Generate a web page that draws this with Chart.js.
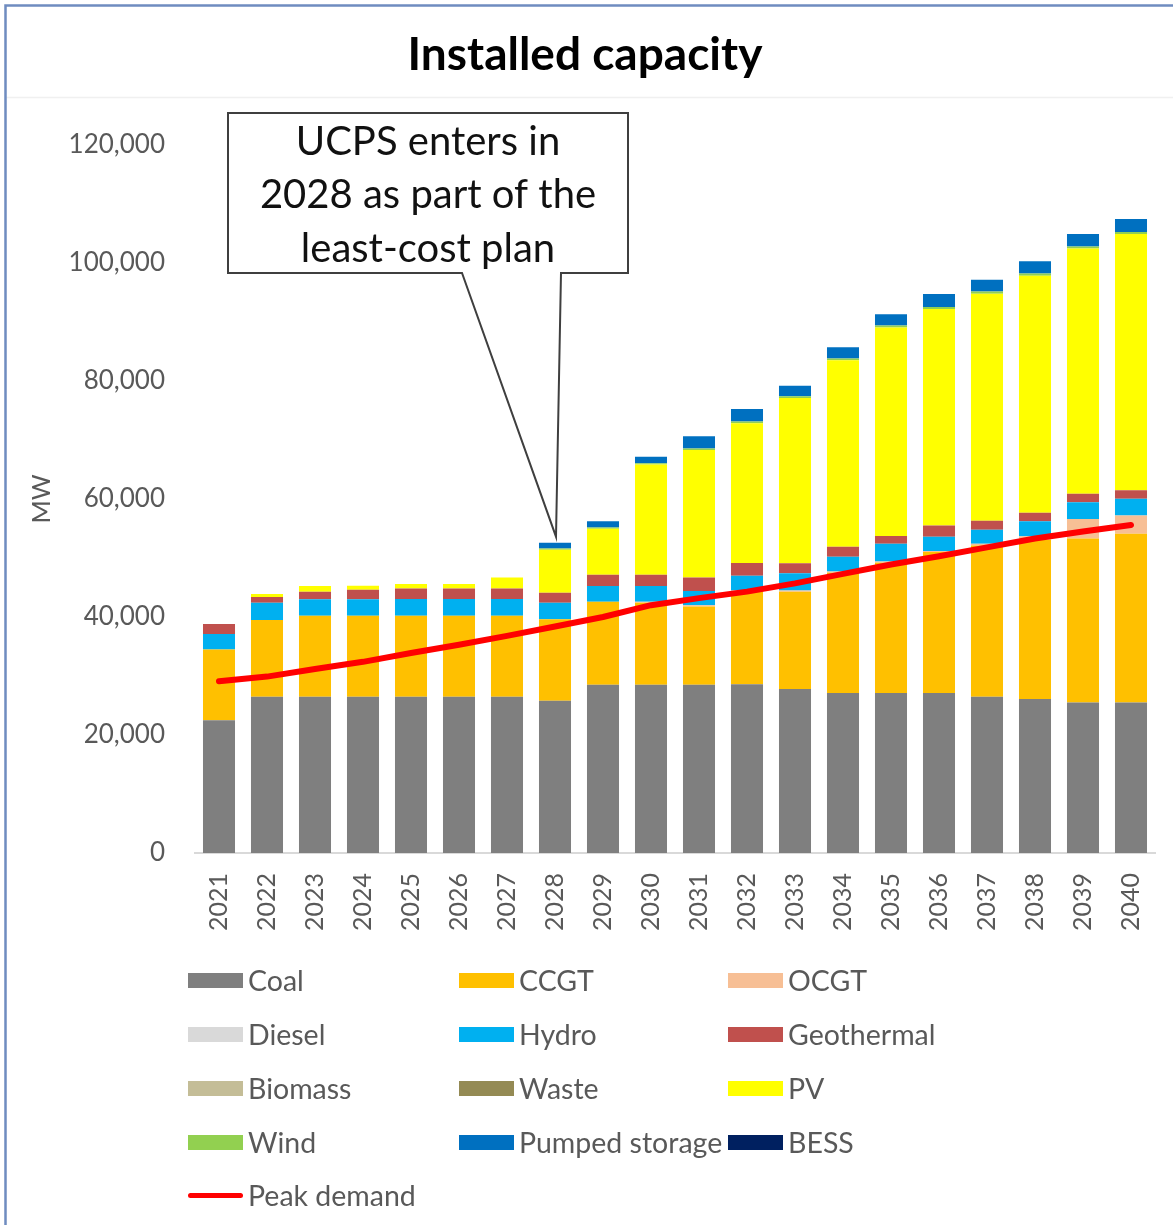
<!DOCTYPE html>
<html>
<head>
<meta charset="utf-8">
<script src="https://cdn.jsdelivr.net/npm/chart.js@4/dist/chart.umd.min.js"></script>
<style>
html,body{margin:0;padding:0;background:#fff;}
#wrap{position:relative;width:1173px;height:1225px;overflow:hidden;background:#fff;}
#c{position:absolute;left:0;top:0;}
.lg{position:absolute;height:30px;display:flex;align-items:center;font-family:Lato,"Open Sans",sans-serif;font-size:28.5px;color:#595959;white-space:nowrap;}
.sw{display:inline-block;width:55px;height:15px;margin-right:5px;}
.ln{display:inline-block;width:55px;height:5px;margin-right:5px;border-radius:3px;}
</style>
</head>
<body>
<div id="wrap">
<canvas id="c" width="1173" height="1225"></canvas>
<div id="legend"></div>
</div>
<script>
// ---- data ----
const years = ['2021','2022','2023','2024','2025','2026','2027','2028','2029','2030','2031','2032','2033','2034','2035','2036','2037','2038','2039','2040'];
const coal    = [22500,26500,26500,26500,26500,26500,26500,25800,28500,28500,28500,28600,27800,27100,27100,27100,26500,26100,25500,25500];
const ccgt    = [12000,13000,13700,13700,13700,13700,13700,13800,14100,13900,13300,15700,16500,20400,22100,23900,25600,27000,27800,28600];
const ocgt    = [0,0,0,0,0,0,0,0,0,200,200,200,200,200,200,200,300,600,3300,3100];
const diesel  = [0,0,0,0,0,0,0,0,0,0,0,0,0,0,0,0,0,0,0,0];
const hydro   = [2600,2900,2800,2800,2850,2850,2850,2800,2650,2650,2400,2500,2900,2500,3000,2400,2400,2550,2850,2850];
const geo     = [1700,1000,1300,1600,1800,1800,1800,1700,1900,1900,2300,2150,1700,1700,1350,1900,1500,1400,1450,1450];
const biomass = [0,0,0,0,0,0,0,0,0,0,0,0,0,0,0,0,0,0,0,0];
const waste   = [0,0,0,0,0,0,0,0,0,0,0,0,0,0,0,0,0,0,0,0];
const pv      = [0,500,950,700,750,750,1850,7300,7800,18700,21600,23700,28000,31600,35300,36700,38500,40200,41550,43400];
const wind    = [0,0,0,0,0,0,0,200,200,200,250,300,300,300,350,350,350,350,350,350];
const pumped  = [0,0,0,0,0,0,0,1000,1100,1100,2100,2100,1800,1900,1900,2200,2000,2100,2100,2200];
const bess    = [0,0,0,0,0,0,0,0,0,0,0,0,0,0,0,0,0,0,0,0];
const peakDemand = [29100,29900,31200,32400,33900,35300,36800,38400,40000,42000,43200,44300,45700,47300,48900,50300,51800,53300,54500,55600];
const yTicks = [0,20000,40000,60000,80000,100000,120000];

const seriesNames  = ['Coal','CCGT','OCGT','Diesel','Hydro','Geothermal','Biomass','Waste','PV','Wind','Pumped storage','BESS'];
const seriesData   = [coal,ccgt,ocgt,diesel,hydro,geo,biomass,waste,pv,wind,pumped,bess];
const seriesColors = ['#7f7f7f','#ffc000','#f7bf95','#d9d9d9','#00b0f0','#c0504d','#c4bd97','#948a54','#ffff00','#92d050','#0070c0','#002060'];

const chartTitle = 'Installed capacity';
const yTitle = 'MW';
const calloutYear = '2028';
const calloutLines = ['UCPS enters in','2028 as part of the','least-cost plan'];

// ---- chart ----
const FONT = 'Lato, "Open Sans", sans-serif';
const TXT = '#595959';

const datasets = seriesNames.map((n,i)=>({
  type:'bar', label:n, data:seriesData[i], backgroundColor:seriesColors[i],
  borderWidth:0, stack:'cap', order:2, categoryPercentage:1.0, barPercentage:0.667
}));
datasets.push({
  type:'line', label:'Peak demand', data:peakDemand, borderColor:'#ff0000', backgroundColor:'#ff0000',
  borderWidth:6, pointRadius:0, tension:0, stack:'demand', order:0, borderCapStyle:'round', borderJoinStyle:'round'
});

const framePlugin = {
  id:'frame',
  beforeDraw(chart){
    const ctx = chart.ctx;
    ctx.save();
    ctx.fillStyle = '#fff';
    ctx.fillRect(0,0,chart.width,chart.height);
    ctx.restore();
  },
  afterDraw(chart){
    const ctx = chart.ctx;
    ctx.save();
    ctx.strokeStyle = '#f0f0f0'; ctx.lineWidth = 1.5;
    ctx.beginPath(); ctx.moveTo(6,97.5); ctx.lineTo(chart.width,97.5); ctx.stroke();
    ctx.strokeStyle = '#6f8cc0'; ctx.lineWidth = 2.5;
    ctx.beginPath(); ctx.moveTo(5.5,chart.height); ctx.lineTo(5.5,5.5); ctx.lineTo(chart.width,5.5); ctx.stroke();
    ctx.fillStyle = '#000';
    ctx.font = 'bold 46px ' + FONT;
    ctx.textAlign = 'center'; ctx.textBaseline = 'alphabetic';
    ctx.fillText(chartTitle, 585, 70);
    ctx.restore();
  }
};

const calloutPlugin = {
  id:'callout',
  afterDatasetsDraw(chart){
    const ctx = chart.ctx, ca = chart.chartArea;
    const xs = chart.scales.x, ys = chart.scales.y;
    const idx = years.indexOf(calloutYear);
    let total = 0; seriesData.forEach(s=>{ total += s[idx]; });
    const tipX = xs.getPixelForValue(idx) + 1;
    const tipY = ys.getPixelForValue(total) - 6;
    const L = ca.left + 33, T = ca.top - 32, W = 400, H = 160;
    const R = L + W, B = T + H;
    const b1 = L + 234, b2 = L + 333;
    ctx.save();
    ctx.beginPath();
    ctx.moveTo(L,T); ctx.lineTo(R,T); ctx.lineTo(R,B); ctx.lineTo(b2,B);
    ctx.lineTo(tipX,tipY); ctx.lineTo(b1,B); ctx.lineTo(L,B); ctx.closePath();
    ctx.fillStyle = '#fff'; ctx.fill();
    ctx.strokeStyle = '#3f3f3f'; ctx.lineWidth = 2; ctx.lineJoin = 'miter'; ctx.stroke();
    ctx.fillStyle = '#111';
    ctx.font = '40px ' + FONT;
    ctx.textAlign = 'center'; ctx.textBaseline = 'middle';
    const cx = L + W/2;
    calloutLines.forEach((t,i)=>ctx.fillText(t, cx, T + 29 + i*53.5));
    ctx.restore();
  }
};

const chart = new Chart(document.getElementById('c'), {
  data:{ labels:years, datasets:datasets },
  options:{
    responsive:false, animation:false, devicePixelRatio:1,
    layout:{ padding:{ top:145, right:18, left:0, bottom:0 } },
    plugins:{ legend:{display:false}, title:{display:false}, tooltip:{enabled:false} },
    scales:{
      x:{
        stacked:true,
        grid:{ display:false, drawTicks:false },
        border:{ display:true, color:'#d9d9d9', width:2 },
        ticks:{ autoSkip:false, maxRotation:90, minRotation:90, padding:20, color:TXT, font:{family:FONT, size:25} },
        afterFit(s){ s.height = 372; s.paddingLeft = 0; s.paddingRight = 0; }
      },
      y:{
        stacked:true, min:0, max:120000,
        grid:{ display:false, drawTicks:false },
        border:{ display:false },
        afterBuildTicks(s){ s.ticks = yTicks.map(v=>({value:v})); },
        ticks:{ padding:30, color:TXT, font:{family:FONT, size:26},
          callback:(v)=>Number(v).toLocaleString('en-US') },
        title:{ display:true, text:yTitle, color:TXT, font:{family:FONT, size:25}, padding:{top:27,bottom:0} },
        afterFit(s){ s.width = 195; }
      }
    }
  },
  plugins:[framePlugin, calloutPlugin]
});

// ---- legend (HTML, built from the chart's datasets) ----
const colX = [188, 459, 728];
const rowY = [980, 1034, 1088, 1142, 1195];
const lg = document.getElementById('legend');
chart.data.datasets.forEach((ds,i)=>{
  const d = document.createElement('div');
  d.className = 'lg';
  d.style.left = colX[i%3] + 'px';
  d.style.top = (rowY[Math.floor(i/3)] - 15) + 'px';
  const m = document.createElement('span');
  if (ds.type === 'line') { m.className = 'ln'; m.style.background = ds.borderColor; }
  else { m.className = 'sw'; m.style.background = ds.backgroundColor; }
  d.appendChild(m);
  d.appendChild(document.createTextNode(ds.label));
  lg.appendChild(d);
});
</script>
</body>
</html>
